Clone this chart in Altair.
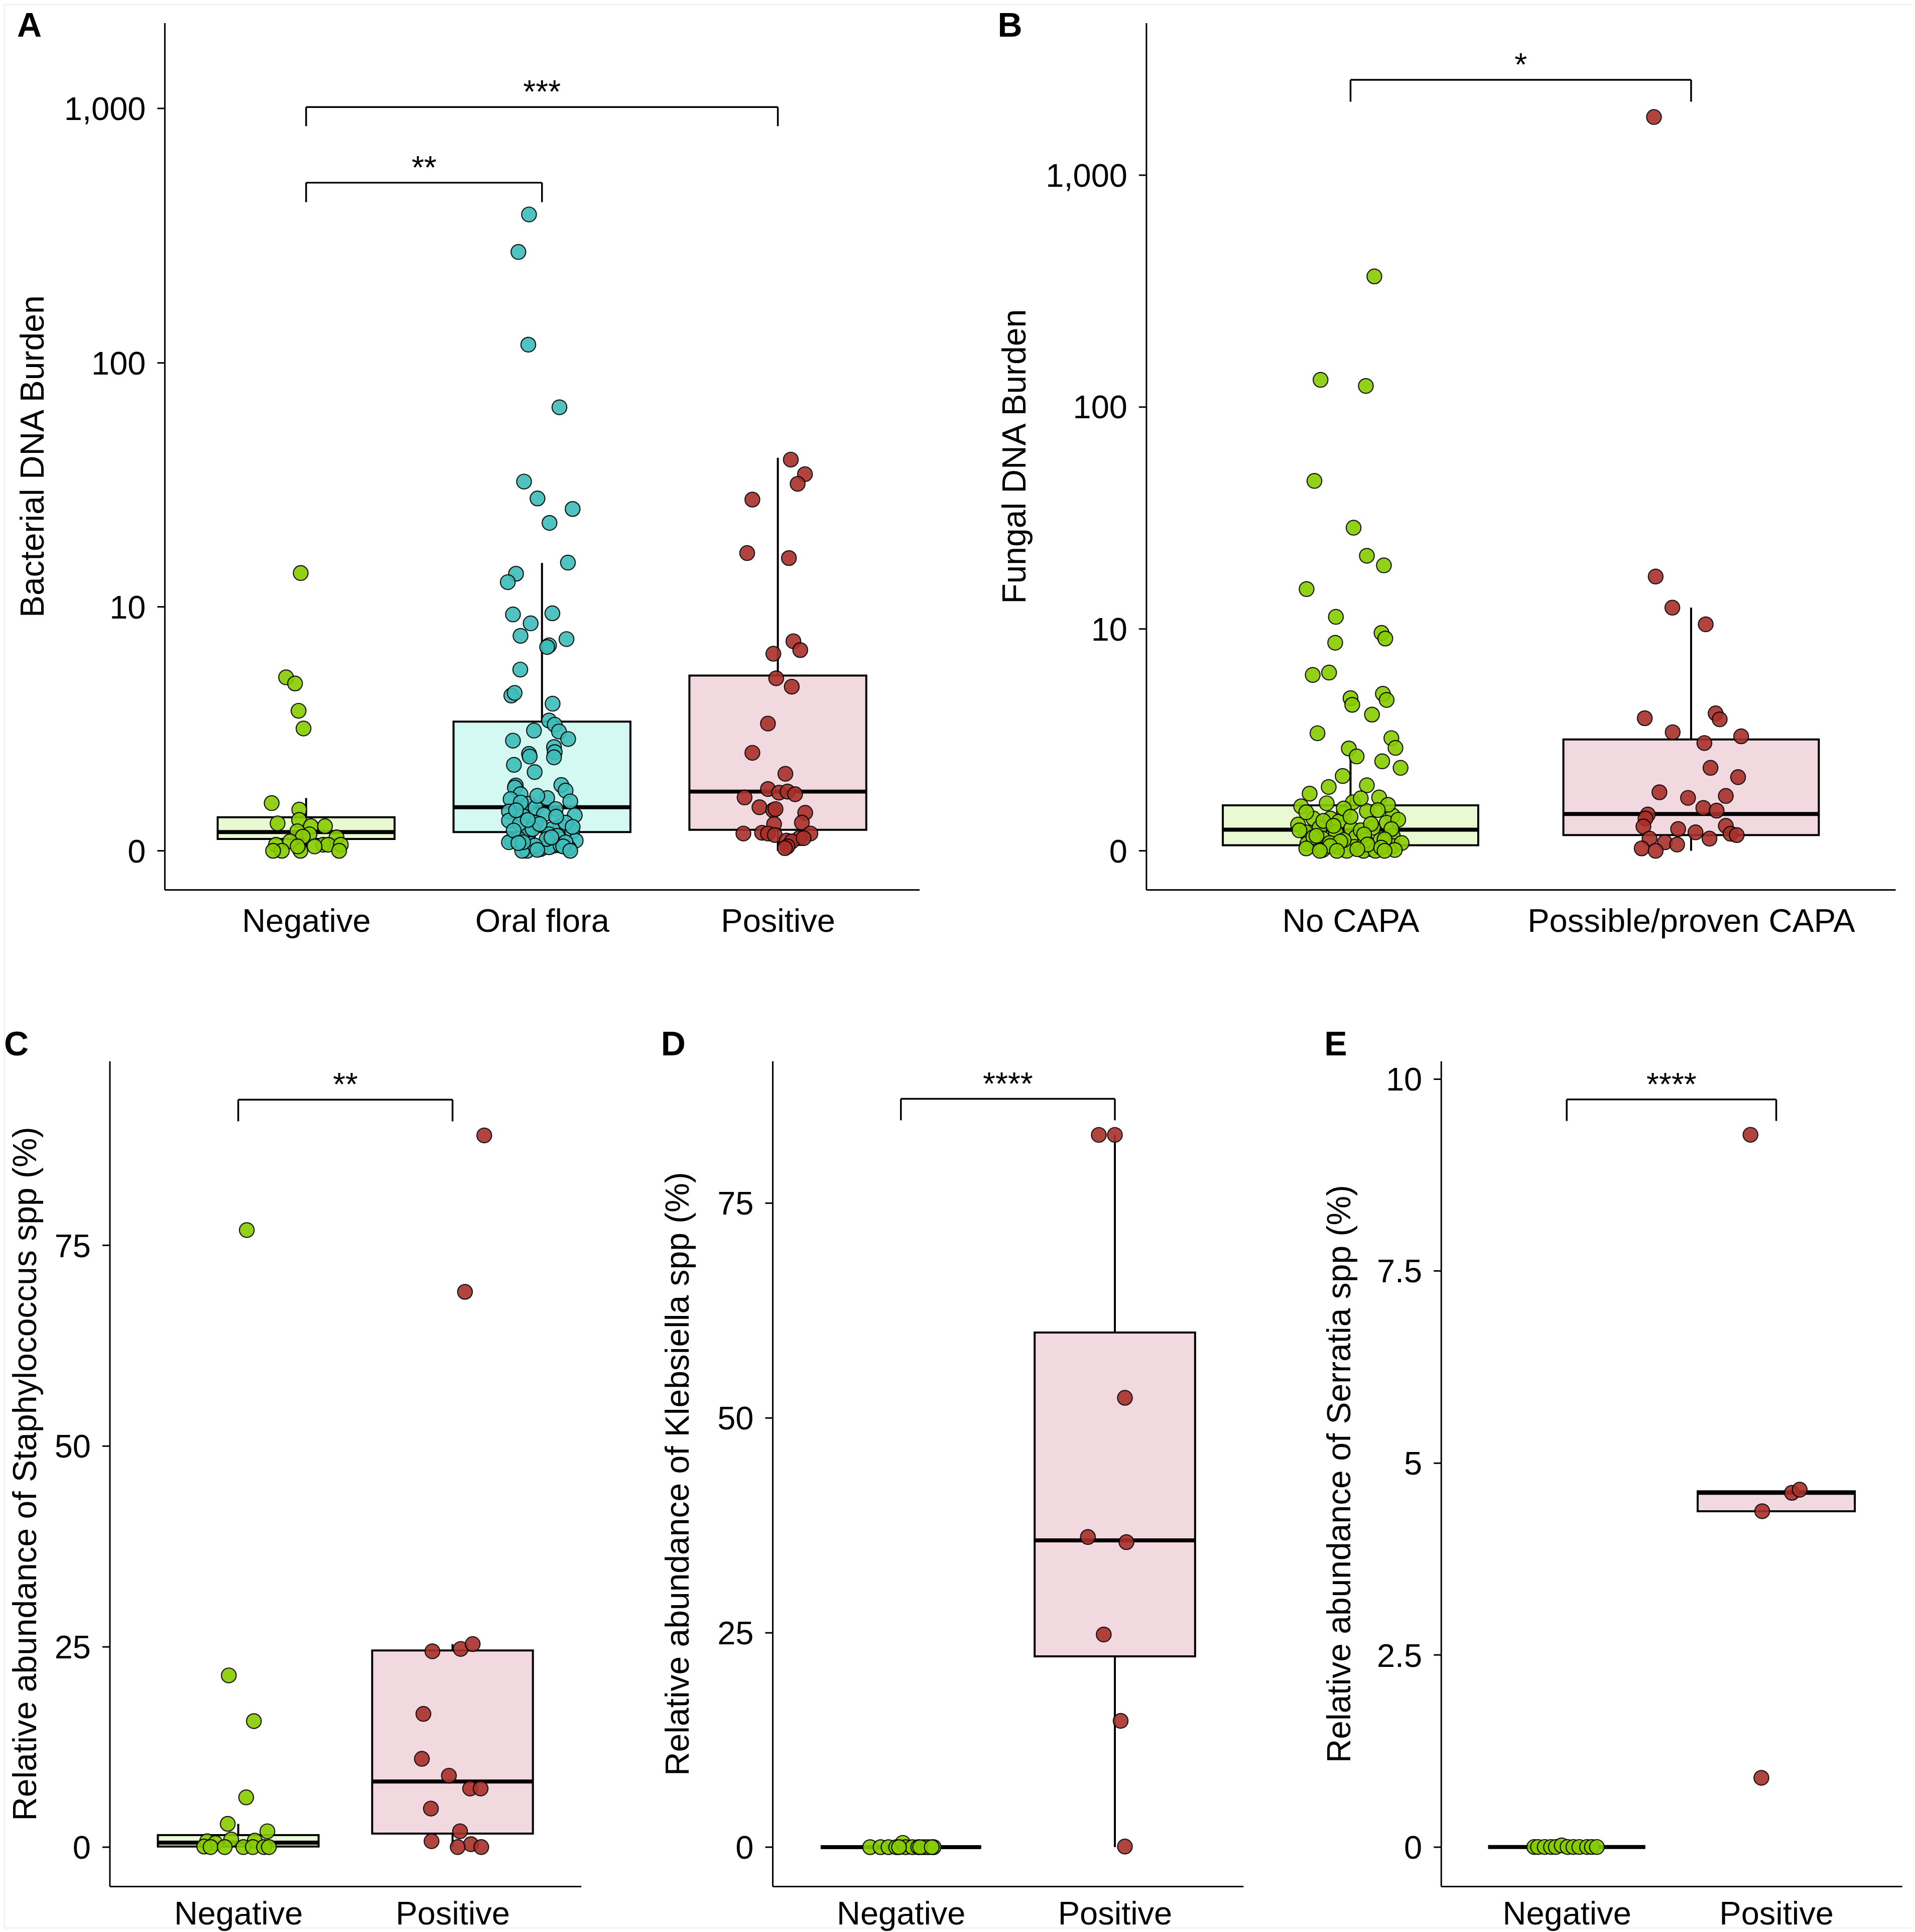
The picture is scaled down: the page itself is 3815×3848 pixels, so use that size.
import altair as alt
import pandas as pd

FONT = "Liberation Sans"
VW, VH = 3800, 3832          # one view covering the page; reference px = chart px + 8

# ---------------------------------------------------------------- data
# Panel A - Bacterial DNA burden
A_cats = ["Negative", "Oral flora", "Positive"]
A_neg = [14.0, 4.71, 4.39, 3.16, 2.51, 0.67, 0.56, 0.35, 0.40, 0.31, 0.31, 0.24, 0.20,
         0.17, 0.16, 0.11, 0.07, 0.07, 0.07, 0.07, 0.05, 0.0, 0.0, 0.0, 0.0, 0.05]
A_neg_j = [-0.023, -0.085, -0.047, -0.032, -0.011, -0.146, -0.029, -0.121, -0.030, 0.020,
           0.080, -0.037, 0.014, -0.014, 0.129, -0.068, -0.128, 0.072, 0.093, 0.147, 0.036,
           -0.103, -0.140, -0.024, 0.140, -0.036]
A_oral = [384, 273.6, 118, 66.6, 33.5, 28.6, 25.9, 22.7, 15.5, 13.9, 12.8,
          9.25, 9.36, 8.44, 7.41, 7.16, 6.70, 6.58, 5.14, 3.81, 3.93, 3.45, 2.79, 2.64, 2.41,
          2.44, 2.12, 2.17, 1.93, 1.79, 1.65, 1.74, 1.67, 1.46, 1.29, 1.01, 1.00, 0.96, 0.83,
          0.74, 0.76, 0.66, 0.53, 0.59, 0.57, 0.48, 0.47, 0.46, 0.39, 0.34, 0.36, 0.32, 0.27,
          0.24, 0.19, 0.12, 0.14, 0.20, 0.18, 0.12, 0.08, 0.06, 0.02, 0.0, 0.03, 0.04, 0.10,
          0.06, 0.0, 0.68, 0.27, 0.34, 0.36, 0.14, 0.10, 0.06, 0.10,
          0.9, 0.8, 0.7, 0.55, 0.45, 0.4, 0.3, 0.25, 0.16, 0.09, 0.05, 0.01, 0.0]
A_oral_j = [-0.055, -0.10, -0.058, 0.074, -0.076, -0.019, 0.13, 0.032, 0.11, -0.11, -0.145,
            -0.123, 0.044, -0.048, -0.091, 0.104, 0.03, 0.022, -0.092, -0.13, -0.116, 0.045,
            0.03, 0.054, 0.072, -0.034, -0.123, 0.111, 0.051, 0.054, 0.051, -0.055, -0.052,
            -0.119, -0.031, 0.082, -0.111, -0.115, -0.091, -0.133, 0.022, -0.055, -0.14,
            -0.027, 0.058, 0.008, 0.139, -0.08, -0.14, -0.094, -0.027, 0.079, 0.044, 0.128,
            -0.059, -0.127, -0.098, 0.03, 0.065, 0.143, -0.048, 0.051, -0.006, -0.063, 0.114,
            0.03, -0.14, 0.079, -0.084, -0.09, -0.04, -0.01, 0.10, 0.02, 0.10, -0.03, -0.08,
            0.1, -0.02, 0.12, -0.11, 0.06, -0.06, 0.13, -0.12, 0.04, -0.1, 0.09, -0.02, 0.12]
A_pos = [41.1, 35.9, 32.8, 28.3, 17.0, 16.2, 7.0, 6.37, 6.12, 4.66, 4.23, 2.68, 1.77, 1.25,
         0.93, 0.86, 0.88, 0.83, 0.77, 0.60, 0.55, 0.57, 0.51, 0.36, 0.34, 0.21, 0.22, 0.21,
         0.19, 0.21, 0.15, 0.12, 0.11, 0.05, 0.15, 0.03]
A_pos_j = [0.055, 0.115, 0.084, -0.108, -0.13, 0.047, 0.066, 0.095, -0.019, -0.007, 0.059,
           -0.042, -0.108, 0.032, -0.042, 0.005, 0.041, 0.073, -0.141, -0.078, -0.02, -0.01,
           0.116, 0.102, -0.016, -0.146, -0.067, -0.042, -0.013, 0.138, 0.091, 0.037, 0.059,
           0.041, 0.109, 0.03]
A_q1 = [0.14, 0.23, 0.26]
A_med = [0.23, 0.60, 0.88]
A_q3 = [0.44, 2.75, 4.81]
A_lo = [0.0, 0.0, 0.0]
A_hi = [0.76, 15.45, 41.8]
A_sig_from = [0, 0]
A_sig_to = [1, 2]
A_sig_y = [511.6, 1012.0]
A_sig_tip = [429.2, 852.0]
A_sig_lab = ["**", "***"]

# Panel B - Fungal DNA burden
B_cats = ["No CAPA", "Possible/proven CAPA"]
B_no = [366, 130.7, 123, 47.3, 29.3, 21.9, 19.8, 15.4, 11.4, 8.54,
        9.54, 8.96, 5.87, 6.04, 4.41, 4.05, 4.66, 4.31, 3.56, 2.75,
        2.56, 2.21, 2.19, 1.93, 1.78, 1.59, 1.37, 1.10, 1.14, 0.87,
        0.69, 0.77, 0.60, 0.55, 0.52, 0.47, 0.47, 0.37, 0.42, 0.40,
        0.32, 0.31, 0.32, 0.25, 0.25, 0.20, 0.16, 0.18, 0.14, 0.09,
        0.08, 0.05, 0.05, 0.02, 0.12, 0.06, 0.01, 0.0, 0.0, 0.0,
        0.1, 0.28, 0.14, 0.18, 0.14,
        0.95, 0.85, 0.75, 0.72, 0.65, 0.62, 0.58, 0.5, 0.45, 0.43, 0.38, 0.35, 0.3, 0.28,
        0.22, 0.2, 0.15, 0.12, 0.1, 0.08, 0.06, 0.04, 0.03, 0.02, 0.01, 0.0, 0.0, 0.0]
B_no_j = [0.07, -0.088, 0.045, -0.106, 0.009, 0.048, 0.098, -0.129, -0.043, -0.045,
          0.091, 0.102, -0.111, -0.063, 0.0, 0.005, 0.095, 0.106, 0.063, -0.097,
          0.12, 0.132, -0.005, 0.018, 0.093, 0.147, -0.023, -0.064, 0.048, 0.084,
          -0.145, 0.007, 0.048, -0.02, 0.124, -0.109, -0.059, -0.154, -0.034, 0.106,
          -0.091, 0.002, 0.066, -0.131, -0.043, 0.124, -0.082, 0.016, 0.088, -0.127,
          -0.097, -0.038, 0.011, 0.061, 0.1, 0.124, -0.082, -0.011, 0.038, 0.073,
          -0.061, 0.03, 0.043, -0.109, -0.02,
          -0.12, 0.03, -0.07, 0.11, -0.02, 0.08, -0.13, 0.0, 0.14, -0.08, 0.06, -0.05, 0.12,
          -0.15, 0.04, -0.1, 0.1, -0.03, 0.15, 0.05, -0.06, 0.09, -0.13, 0.02, 0.13, -0.09,
          0.1, -0.04]
B_capa = [1776, 17.6, 12.6, 10.5, 3.39, 3.62, 3.34, 2.79, 2.38, 2.63, 1.59, 1.34, 0.98,
          0.86, 0.90, 0.66, 0.61, 0.54, 0.47, 0.34, 0.30, 0.25, 0.35, 0.23, 0.21, 0.16,
          0.11, 0.16, 0.03, 0.0, 0.08]
B_capa_j = [-0.109, -0.104, -0.055, 0.043, -0.136, 0.072, 0.084, -0.054, 0.039, 0.147,
            0.057, 0.138, -0.093, -0.009, 0.102, 0.036, 0.075, -0.127, -0.134, -0.14,
            -0.038, 0.013, 0.102, 0.116, 0.134, -0.122, -0.077, 0.054, -0.145, -0.104, -0.041]
B_q1 = [0.07, 0.21]
B_med = [0.29, 0.55]
B_q3 = [0.71, 2.51]
B_lo = [0.0, 0.0]
B_hi = [1.89, 12.6]
B_sig_from = [0]
B_sig_to = [1]
B_sig_y = [2567.0]
B_sig_tip = [2067.0]
B_sig_lab = ["*"]

# Panel C - Staphylococcus
C_cats = ["Negative", "Positive"]
C_neg = [76.9, 21.4, 15.7, 6.2, 2.9, 1.97, 0.73, 0.5, 0.95, 0.8, 0.07, 0, 0, 0, 0, 0, 0]
C_neg_j = [0.04, -0.044, 0.073, 0.037, -0.049, 0.136, -0.145, -0.107, -0.033, 0.077, -0.159,
           -0.129, -0.063, 0.024, 0.068, 0.12, 0.143]
C_pos = [88.7, 69.2, 24.4, 24.7, 25.3, 16.6, 11.0, 8.9, 7.3, 7.3, 4.8, 1.97, 0.73, 0.36, 0, 0]
C_pos_j = [0.148, 0.058, -0.094, 0.038, 0.094, -0.136, -0.143, -0.017, 0.082, 0.131, -0.101,
           0.035, -0.098, 0.086, 0.024, 0.134]
C_q1 = [0.07, 1.68]
C_med = [0.55, 8.17]
C_q3 = [1.5, 24.5]
C_lo = [0.0, 0.0]
C_hi = [2.9, 25.3]
C_sig_from = [0]
C_sig_to = [1]
C_sig_y = [93.15]
C_sig_tip = [90.45]
C_sig_lab = ["**"]

# Panel D - Klebsiella
D_cats = ["Negative", "Positive"]
D_neg = [0, 0, 0, 0, 0.5, 0, 0, 0, 0, 0, 0, 0, 0, 0]
D_neg_j = [-0.144, -0.095, -0.058, -0.022, 0.009, 0.022, 0.054, 0.081, 0.108, 0.126, 0.153,
           -0.009, 0.09, 0.144]
D_pos = [82.9, 82.9, 52.3, 36.1, 35.5, 24.75, 14.7, 0.07]
D_pos_j = [-0.075, 0.0, 0.047, -0.126, 0.054, -0.052, 0.027, 0.047]
D_q1 = [0.0, 22.2]
D_med = [0.0, 35.7]
D_q3 = [0.0, 59.9]
D_lo = [0.0, 0.0]
D_hi = [0.0, 82.9]
D_sig_from = [0]
D_sig_to = [1]
D_sig_y = [87.1]
D_sig_tip = [84.6]
D_sig_lab = ["****"]

# Panel E - Serratia
E_cats = ["Negative", "Positive"]
E_neg = [0.0, 0.0, 0.0, 0.0, 0.0, 0.02, 0.0, 0.0, 0.0, 0.0, 0.0, 0.0]
E_neg_j = [-0.155, -0.137, -0.105, -0.075, -0.052, -0.024, 0.004, 0.032, 0.06, 0.097, 0.12, 0.144]
E_pos = [9.27, 4.61, 4.65, 4.37, 0.90]
E_pos_j = [-0.123, 0.075, 0.112, -0.067, -0.071]
E_q1 = [0.0, 4.37]
E_med = [0.0, 4.61]
E_q3 = [0.0, 4.63]
E_lo = [0.0, 4.37]
E_hi = [0.0, 4.63]
E_sig_from = [0]
E_sig_to = [1]
E_sig_y = [9.73]
E_sig_tip = [9.45]
E_sig_lab = ["****"]

# ---------------------------------------------------------------- styles
GREEN, TEAL, RED = "#88CC00", "#3EBDBA", "#A9302A"
BOX_GREEN, BOX_TEAL, BOX_RED = "#E9F9D2", "#D4F8F2", "#F2D9DF"
LABEL_SIZE = 65
TITLE_SIZE = 66


def make_panel(cats, groups, jitters, pt_cols, box_cols, q1, med, q3, lo, hi,
               sig, yscale_kw, yvals, yfmt, ytitle, xrange, yrange, title_x,
               xlab_pad, letter, letter_xy):
    n = len(cats)
    pts = []
    for gi, (vals, jit) in enumerate(zip(groups, jitters)):
        if len(vals) != len(jit):
            raise ValueError("length mismatch in " + letter)
        for v, j in zip(vals, jit):
            pts.append({"x": gi + j, "v": v, "col": pt_cols[gi]})
    pts = pd.DataFrame(pts)
    box = pd.DataFrame({"idx": list(range(n)), "q1": q1, "med": med, "q3": q3,
                        "lo": lo, "hi": hi, "fill": box_cols})
    sig_from, sig_to, sig_y, sig_tip, sig_lab = sig
    sg = pd.DataFrame({"x1": sig_from, "x2": sig_to, "y": sig_y, "tip": sig_tip, "lab": sig_lab})

    xscale = alt.Scale(domain=[-0.6, n - 1 + 0.6], range=xrange, nice=False, zero=False)
    yscale = alt.Scale(range=yrange, nice=False, zero=False, **yscale_kw)
    label_expr = "[" + ",".join("'%s'" % c for c in cats) + "][datum.value]"
    common = dict(grid=False, domainColor="black", domainWidth=3, tickColor="black",
                  tickWidth=3, labelColor="black", labelFont=FONT,
                  labelFontSize=LABEL_SIZE, labelFlush=False, labelOverlap=False,
                  labelLimit=0, titleColor="black", titleFont=FONT,
                  titleFontSize=TITLE_SIZE, titleFontWeight="normal", titleLimit=3000)
    xaxis = alt.Axis(orient="bottom", offset=yrange[0] - VH, values=list(range(n)),
                     labelExpr=label_expr, title=None, ticks=False, tickSize=0,
                     labelPadding=xlab_pad, labelBaseline="alphabetic", **common)
    yaxis = alt.Axis(orient="left", offset=-xrange[0], values=yvals,
                     labelExpr="format(datum.value, '%s')" % yfmt,
                     title=ytitle, titleX=title_x, titleAngle=270,
                     titleBaseline="alphabetic", tickSize=15, labelPadding=23,
                     labelBaseline="alphabetic", labelOffset=23, **common)

    def X(f):
        return alt.X(f + ":Q", scale=xscale, axis=xaxis)

    def Y(f):
        return alt.Y(f + ":Q", scale=yscale, axis=yaxis)

    boxb = alt.Chart(box).transform_calculate(xl="datum.idx - 0.375", xr="datum.idx + 0.375")
    wl = boxb.mark_rule(color="black", strokeWidth=4).encode(x=X("idx"), y=Y("lo"), y2="q1")
    wh = boxb.mark_rule(color="black", strokeWidth=4).encode(x=X("idx"), y=Y("q3"), y2="hi")
    rect = boxb.mark_rect(stroke="black", strokeWidth=4).encode(
        x=X("xl"), x2="xr", y=Y("q1"), y2="q3", fill=alt.Fill("fill:N", scale=None))
    medl = boxb.mark_rule(color="black", strokeWidth=8).encode(x=X("xl"), x2="xr", y=Y("med"))
    points = alt.Chart(pts).mark_circle(size=860, stroke="black", strokeWidth=2.2,
                                        opacity=0.9).encode(
        x=X("x"), y=Y("v"), fill=alt.Fill("col:N", scale=None))
    sgb = alt.Chart(sg).transform_calculate(xm="(datum.x1 + datum.x2) / 2")
    bh = sgb.mark_rule(color="black", strokeWidth=3.5).encode(x=X("x1"), x2="x2", y=Y("y"))
    bl = sgb.mark_rule(color="black", strokeWidth=3.5).encode(x=X("x1"), y=Y("tip"), y2="y")
    br = sgb.mark_rule(color="black", strokeWidth=3.5).encode(x=X("x2"), y=Y("tip"), y2="y")
    bt = sgb.mark_text(font=FONT, fontSize=64, baseline="alphabetic", dy=-8,
                       color="black").encode(x=X("xm"), y=Y("y"), text="lab:N")
    let = alt.Chart(pd.DataFrame({"t": [letter]})).mark_text(
        font=FONT, fontSize=68, fontWeight="bold", align="left", baseline="alphabetic",
        color="black").encode(x=alt.value(letter_xy[0]), y=alt.value(letter_xy[1]), text="t:N")
    return alt.layer(wl, wh, rect, medl, points, bh, bl, br, bt, let)


top_y = [1764, 37]
bot_y = [3749.5, 2105.3]

pA = make_panel(A_cats, [A_neg, A_oral, A_pos], [A_neg_j, A_oral_j, A_pos_j],
                [GREEN, TEAL, RED], [BOX_GREEN, BOX_TEAL, BOX_RED],
                A_q1, A_med, A_q3, A_lo, A_hi,
                (A_sig_from, A_sig_to, A_sig_y, A_sig_tip, A_sig_lab),
                dict(type="symlog", constant=1.25, domain=[-0.525, 2162.6]),
                [0, 10, 100, 1000], ",", "Bacterial DNA Burden",
                [320, 1824], top_y, -241, 83, "A", (26, 65))
pB = make_panel(B_cats, [B_no, B_capa], [B_no_j, B_capa_j],
                [GREEN, RED], [BOX_GREEN, BOX_RED],
                B_q1, B_med, B_q3, B_lo, B_hi,
                (B_sig_from, B_sig_to, B_sig_y, B_sig_tip, B_sig_lab),
                dict(type="symlog", constant=1.25, domain=[-0.587, 4512]),
                [0, 10, 100, 1000], ",", "Fungal DNA Burden",
                [2276, 3769], top_y, -241, 83, "B", (1980, 65))
pC = make_panel(C_cats, [C_neg, C_pos], [C_neg_j, C_pos_j],
                [GREEN, RED], [BOX_GREEN, BOX_RED],
                C_q1, C_med, C_q3, C_lo, C_hi,
                (C_sig_from, C_sig_to, C_sig_y, C_sig_tip, C_sig_lab),
                dict(domain=[-4.89, 97.97]),
                [0, 25, 50, 75], "~g", "Relative abundance of Staphylococcus spp (%)",
                [210.5, 1150], bot_y, -147, 76, "C", (0, 2094))
pD = make_panel(D_cats, [D_neg, D_pos], [D_neg_j, D_pos_j],
                [GREEN, RED], [BOX_GREEN, BOX_RED],
                D_q1, D_med, D_q3, D_lo, D_hi,
                (D_sig_from, D_sig_to, D_sig_y, D_sig_tip, D_sig_lab),
                dict(domain=[-4.56, 91.5]),
                [0, 25, 50, 75], "~g", "Relative abundance of Klebsiella spp (%)",
                [1531.4, 2469.4], bot_y, -168, 76, "D", (1309, 2094))
pE = make_panel(E_cats, [E_neg, E_pos], [E_neg_j, E_pos_j],
                [GREEN, RED], [BOX_GREEN, BOX_RED],
                E_q1, E_med, E_q3, E_lo, E_hi,
                (E_sig_from, E_sig_to, E_sig_y, E_sig_tip, E_sig_lab),
                dict(domain=[-0.512, 10.23]),
                [0, 2.5, 5, 7.5, 10], "~g", "Relative abundance of Serratia spp (%)",
                [2863.5, 3782], bot_y, -181, 76, "E", (2631, 2094))

chart = alt.layer(pA, pB, pC, pD, pE).resolve_scale(
    x="independent", y="independent"
).resolve_axis(x="independent", y="independent").properties(
    width=VW, height=VH, padding=0
).configure_view(stroke=None).configure(font=FONT)

chart.save("out.html", embed_options={"renderer": "svg", "actions": False})
